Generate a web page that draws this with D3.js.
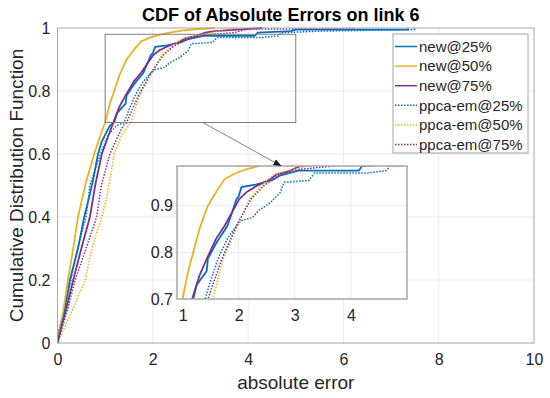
<!DOCTYPE html>
<meta charset="utf-8">
<head>
    <title>CDF of Absolute Errors</title>
    <script src="https://cdn.jsdelivr.net/npm/d3@7"></script>
    <style>
        body { margin: 0; background: white; }
        text { font-family: "Liberation Sans", Arial, sans-serif; fill: #262626; }
    </style>
</head>
<body>
<div id="chart"></div>
<script>
    var new25 = [[0,0],[0.05,0.05],[0.14,0.1],[0.26,0.2],[0.43,0.3],[0.56,0.4],[0.66,0.46],[0.75,0.52],[0.85,0.6],[0.93,0.64],[1.1,0.69],[1.19,0.7],[1.25,0.73],[1.43,0.76],[1.45,0.786],[1.6,0.82],[1.8,0.857],[1.96,0.914],[2.0,0.92],[2.05,0.94],[2.3,0.945],[2.6,0.955],[2.75,0.965],[3.06,0.975],[4.14,0.975],[4.2,0.985],[4.9,0.99],[5.0,0.995],[7.35,0.995],[7.35,1]];
    var new50 = [[0,0],[0.05,0.05],[0.12,0.1],[0.22,0.2],[0.33,0.3],[0.43,0.4],[0.52,0.46],[0.61,0.517],[0.77,0.6],[0.88,0.65],[1.0,0.7],[1.1,0.76],[1.19,0.8],[1.3,0.85],[1.45,0.9],[1.6,0.93],[1.75,0.957],[1.95,0.97],[2.13,0.978],[2.36,0.985],[2.6,0.992],[2.9,0.996],[3.3,1]];
    var new75 = [[0,0],[0.08,0.05],[0.17,0.1],[0.33,0.2],[0.5,0.3],[0.68,0.4],[0.79,0.5],[0.93,0.6],[1.05,0.65],[1.17,0.7],[1.3,0.75],[1.43,0.786],[1.6,0.83],[1.75,0.857],[2.01,0.914],[2.15,0.93],[2.33,0.943],[2.57,0.957],[2.68,0.967],[2.92,0.975],[3.1,0.985],[3.3,0.99],[4.0,0.997],[4.3,1]];
    var ppca25 = [[0,0],[0.07,0.05],[0.15,0.1],[0.28,0.2],[0.42,0.3],[0.6,0.4],[0.68,0.5],[0.9,0.6],[1.06,0.66],[1.24,0.69],[1.4,0.7],[1.5,0.74],[1.63,0.786],[1.8,0.83],[1.96,0.857],[2.05,0.868],[2.25,0.875],[2.35,0.889],[2.56,0.906],[2.74,0.928],[2.81,0.95],[3.25,0.954],[3.35,0.97],[4.28,0.97],[4.63,0.975],[4.7,0.985],[5.5,0.99],[7.5,0.995],[7.5,1]];
    var ppca50 = [[0,0],[0.15,0.05],[0.3,0.1],[0.58,0.2],[0.72,0.3],[0.93,0.4],[1.03,0.46],[1.1,0.517],[1.19,0.6],[1.35,0.66],[1.54,0.7],[1.72,0.786],[1.98,0.857],[2.19,0.914],[2.4,0.943],[2.63,0.967],[2.9,0.976],[3.24,0.985],[3.5,0.995],[3.8,1]];
    var ppca75 = [[0,0],[0.1,0.05],[0.2,0.1],[0.37,0.2],[0.6,0.3],[0.82,0.4],[0.92,0.5],[1.1,0.6],[1.25,0.65],[1.38,0.69],[1.45,0.7],[1.7,0.786],[1.96,0.857],[2.22,0.914],[2.45,0.943],[2.74,0.967],[3.1,0.978],[3.7,0.985],[4.0,0.997],[6.2,0.997],[6.2,1]];

    var seriesNames = ["new@25%", "new@50%", "new@75%", "ppca-em@25%", "ppca-em@50%", "ppca-em@75%"];
    var seriesData = [new25, new50, new75, ppca25, ppca50, ppca75];
    var seriesColors = ["#0072BD", "#EDB120", "#7E2F8E", "#0072BD", "#EDB120", "#7E2F8E"];
    var seriesDashed = [false, false, false, true, true, true];

    var xTicks = [0, 2, 4, 6, 8, 10];
    var yTicks = [0, 0.2, 0.4, 0.6, 0.8, 1];
    var insetXTicks = [1, 2, 3, 4];
    var insetYTicks = [0.7, 0.8, 0.9];
    var zoomBox = { x0: 1, x1: 5, y0: 0.7, y1: 0.98 };

    var width = 550, height = 398;
    var margin = { top: 28, right: 16, bottom: 55, left: 57.5 };

    var svg = d3.select("#chart").append("svg")
        .attr("width", width)
        .attr("height", height);

    var x = d3.scaleLinear().domain([0, 10]).range([margin.left, width - margin.right]);
    var y = d3.scaleLinear().domain([0, 1]).range([height - margin.bottom, margin.top]);

    // grid
    svg.append("g").selectAll("line").data(xTicks.slice(1, -1)).enter().append("line")
        .attr("x1", d => x(d)).attr("x2", d => x(d))
        .attr("y1", y(0)).attr("y2", y(1))
        .style("stroke", "#ebebeb");
    svg.append("g").selectAll("line").data(yTicks.slice(1, -1)).enter().append("line")
        .attr("y1", d => y(d)).attr("y2", d => y(d))
        .attr("x1", x(0)).attr("x2", x(10))
        .style("stroke", "#ebebeb");

    svg.append("clipPath").attr("id", "clipMain").append("rect")
        .attr("x", x(0)).attr("y", y(1) - 1)
        .attr("width", x(10) - x(0)).attr("height", y(0) - y(1) + 1);

    function drawLines(g, xs, ys, clipId) {
        var line = d3.line().x(d => xs(d[0])).y(d => ys(d[1]));
        g.append("g").attr("clip-path", "url(#" + clipId + ")")
            .selectAll("path").data(seriesData).enter().append("path")
            .attr("d", line)
            .style("fill", "none")
            .style("stroke", (d, i) => seriesColors[i])
            .style("stroke-width", (d, i) => seriesDashed[i] ? 1.5 : 1.8)
            .style("stroke-dasharray", (d, i) => seriesDashed[i] ? "1.5,1.5" : null);
    }
    drawLines(svg, x, y, "clipMain");

    // axes box
    svg.append("rect")
        .attr("x", x(0)).attr("y", y(1))
        .attr("width", x(10) - x(0)).attr("height", y(0) - y(1))
        .style("fill", "none").style("stroke", "#a6a6a6");

    var xAxis = d3.axisBottom(x).tickValues(xTicks).tickSize(0).tickPadding(11).tickFormat(d3.format("d"));
    var gx = svg.append("g").attr("transform", "translate(0," + y(0) + ")").call(xAxis);
    gx.select(".domain").remove();
    gx.selectAll("text").style("font-size", "16px").attr("fill", "#262626");

    var yAxis = d3.axisLeft(y).tickValues(yTicks).tickSize(0).tickPadding(7).tickFormat(d => d === 0 || d === 1 ? d : d.toFixed(1));
    var gy = svg.append("g").attr("transform", "translate(" + x(0) + ",0)").call(yAxis);
    gy.select(".domain").remove();
    gy.selectAll("text").style("font-size", "16px").attr("fill", "#262626");

    // zoom rectangle on the main axes
    svg.append("rect")
        .attr("x", x(zoomBox.x0)).attr("y", y(zoomBox.y1))
        .attr("width", x(zoomBox.x1) - x(zoomBox.x0))
        .attr("height", y(zoomBox.y0) - y(zoomBox.y1))
        .style("fill", "none").style("stroke", "#808080");

    // inset axes
    var ix = d3.scaleLinear().domain([0.9, 5]).range([177, 407]);
    var iy = d3.scaleLinear().domain([0.7, 0.985]).range([299, 166]);

    var inset = svg.append("g");
    inset.append("rect")
        .attr("x", ix(0.9)).attr("y", iy(0.985))
        .attr("width", ix(5) - ix(0.9)).attr("height", iy(0.7) - iy(0.985))
        .style("fill", "white");
    inset.append("g").selectAll("line").data(insetXTicks).enter().append("line")
        .attr("x1", d => ix(d)).attr("x2", d => ix(d))
        .attr("y1", iy(0.7)).attr("y2", iy(0.985))
        .style("stroke", "#ebebeb");
    inset.append("g").selectAll("line").data(insetYTicks.slice(1)).enter().append("line")
        .attr("y1", d => iy(d)).attr("y2", d => iy(d))
        .attr("x1", ix(0.9)).attr("x2", ix(5))
        .style("stroke", "#ebebeb");

    svg.append("clipPath").attr("id", "clipInset").append("rect")
        .attr("x", ix(0.9)).attr("y", iy(0.985))
        .attr("width", ix(5) - ix(0.9)).attr("height", iy(0.7) - iy(0.985));
    drawLines(inset, ix, iy, "clipInset");

    inset.append("rect")
        .attr("x", ix(0.9)).attr("y", iy(0.985))
        .attr("width", ix(5) - ix(0.9)).attr("height", iy(0.7) - iy(0.985))
        .style("fill", "none").style("stroke", "#a6a6a6").style("stroke-width", 1.5);

    var ixAxis = d3.axisBottom(ix).tickValues(insetXTicks).tickSize(0).tickPadding(11).tickFormat(d3.format("d"));
    var igx = inset.append("g").attr("transform", "translate(0," + iy(0.7) + ")").call(ixAxis);
    igx.select(".domain").remove();
    igx.selectAll("text").style("font-size", "16px").attr("fill", "#262626");

    var iyAxis = d3.axisLeft(iy).tickValues(insetYTicks).tickSize(0).tickPadding(4).tickFormat(d3.format(".1f"));
    var igy = inset.append("g").attr("transform", "translate(" + ix(0.9) + ",0)").call(iyAxis);
    igy.select(".domain").remove();
    igy.selectAll("text").style("font-size", "16px").attr("fill", "#262626");

    // arrow from zoom box to inset
    svg.append("defs").append("marker")
        .attr("id", "arrowHead").attr("viewBox", "0 0 10 10")
        .attr("refX", 10).attr("refY", 5)
        .attr("markerWidth", 8).attr("markerHeight", 8)
        .attr("orient", "auto")
        .append("path").attr("d", "M0,1 L10,5 L0,9 z").style("fill", "#1a1a1a");
    svg.append("line")
        .attr("x1", x(3.05)).attr("y1", y(zoomBox.y0))
        .attr("x2", ix(2.76)).attr("y2", iy(0.985))
        .style("stroke", "#808080")
        .attr("marker-end", "url(#arrowHead)");

    // legend
    var legend = svg.append("g").attr("transform", "translate(393,34)");
    legend.append("rect")
        .attr("width", 135).attr("height", 119)
        .style("fill", "white").style("stroke", "#a6a6a6");
    var items = legend.selectAll("g.item").data(seriesNames).enter().append("g")
        .attr("class", "item")
        .attr("transform", (d, i) => "translate(0," + (12.5 + i * 19.6) + ")");
    items.append("line")
        .attr("x1", 2).attr("x2", 24)
        .style("stroke", (d, i) => seriesColors[i])
        .style("stroke-width", 1.5)
        .style("stroke-dasharray", (d, i) => seriesDashed[i] ? "1.5,1.5" : null);
    items.append("text")
        .attr("x", 26).attr("dy", "0.35em")
        .style("font-size", "15px")
        .text(d => d);

    // titles
    svg.append("text")
        .attr("x", (x(0) + x(10)) / 2 - 15).attr("y", 21)
        .attr("text-anchor", "middle")
        .style("font-size", "18px").style("font-weight", "bold")
        .style("fill", "#000")
        .text("CDF of Absolute Errors on link 6");
    svg.append("text")
        .attr("x", (x(0) + x(10)) / 2).attr("y", 389)
        .attr("text-anchor", "middle")
        .style("font-size", "19px")
        .text("absolute error");
    svg.append("text")
        .attr("transform", "translate(23," + (y(0) + y(1)) / 2 + ") rotate(-90)")
        .attr("text-anchor", "middle")
        .style("font-size", "19px")
        .text("Cumulative Distribution Function");
</script>
</body>
</html>
